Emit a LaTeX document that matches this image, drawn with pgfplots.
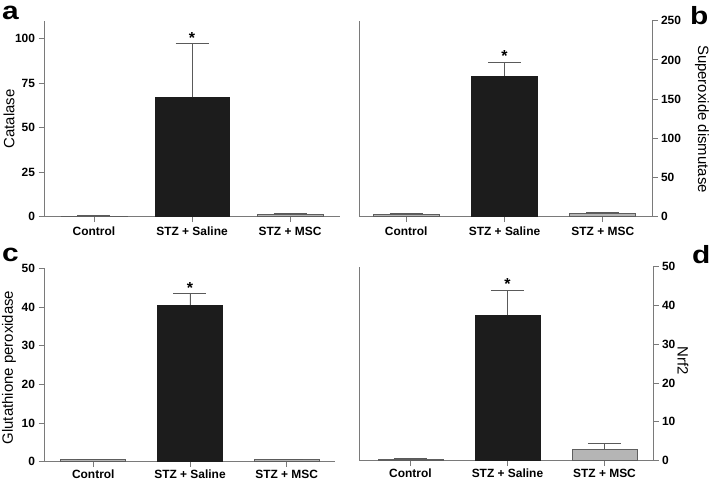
\documentclass[border=0pt]{standalone}
\usepackage{pgfplots}
\pgfplotsset{compat=1.18}
\usepackage{fontspec}
\setmainfont{Liberation Sans}
\definecolor{axc}{HTML}{7A7A7A}
\definecolor{barblk}{HTML}{1C1C1C}
\definecolor{bargray}{HTML}{B5B5B5}
\definecolor{bord}{HTML}{5E5E5E}
\definecolor{errc}{HTML}{5A5A5A}
\newcommand{\tickfont}{\bfseries\fontsize{12}{14}\selectfont}
\newcommand{\starfont}{\bfseries\fontsize{16}{16}\selectfont}
\newcommand{\labfont}{\fontsize{15}{17}\selectfont}
\newcommand{\letfont}{\bfseries\fontsize{25}{28}\selectfont}
\pgfplotsset{
  panel/.style={
    scale only axis,
    axis x line*=bottom,
    axis line style={axc, line width=0.9bp},
    every tick/.style={axc, line width=0.9bp},
    major tick length=5.5bp,
    tick align=outside,
    xtick={0,1,2},
    xticklabels={Control, STZ + Saline, STZ + MSC},
    ymin=0,
    /pgf/number format/assume math mode=true,
    ticklabel style={font=\tickfont, text=black},
    xticklabel style={yshift=-1bp},
    ybar, bar shift=0pt,
    clip=false,
  },
  gbar/.style={fill=bargray, draw=bord, line width=0.8bp},
  kbar/.style={fill=barblk, draw=barblk, line width=0.8bp},
  err/.style={error bars/.cd, y dir=plus, y explicit,
    error bar style={errc, line width=0.9bp},
    error mark options={errc, line width=0.9bp, mark size=16.5bp, rotate=90}},
}
\begin{document}
\begin{tikzpicture}
\useasboundingbox (0bp,0bp) rectangle (709bp,480bp);
% ---------- panel a ----------
\begin{axis}[panel, at={(44bp,263.3bp)}, anchor=south west,
  width=296bp, height=195.7bp, axis y line*=left,
  xmin=-0.51, xmax=2.51, ymax=110, ytick={0,25,50,75,100}]
\addplot[gbar, bar width=66bp, err] coordinates {(0,0.4) +- (0,0.1)};
\addplot[kbar, bar width=74bp, err] coordinates {(1,67) +- (0,30.2)};
\addplot[gbar, bar width=66bp, err] coordinates {(2,1.2) +- (0,0.4)};
\node[above, font=\starfont, inner sep=0.5bp] at (axis cs:1,97.2) {*};
\end{axis}
% ---------- panel b ----------
\begin{axis}[panel, at={(359bp,263.3bp)}, anchor=south west,
  width=293bp, height=196bp, axis y line*=right,
  xmin=-0.48, xmax=2.5, ymax=250, ytick={0,50,100,150,200,250}]
\draw[axc, line width=0.9bp] (rel axis cs:0,0) -- (rel axis cs:0,1);
\addplot[gbar, bar width=66bp, err] coordinates {(0,3.0) +- (0,1.3)};
\addplot[kbar, bar width=66bp, err] coordinates {(1,179.5) +- (0,17)};
\addplot[gbar, bar width=66bp, err] coordinates {(2,4.2) +- (0,1.7)};
\node[above, font=\starfont, inner sep=0.5bp] at (axis cs:1,196.5) {*};
\end{axis}
% ---------- panel c ----------
\begin{axis}[panel, at={(44bp,18.3bp)}, anchor=south west,
  width=291bp, height=193.4bp, axis y line*=left,
  xticklabel style={yshift=1.5bp},
  xmin=-0.51, xmax=2.5, ymax=50, ytick={0,10,20,30,40,50}]
\addplot[gbar, bar width=65bp, err] coordinates {(0,0.5) +- (0,0.1)};
\addplot[kbar, bar width=65bp, err] coordinates {(1,40.4) +- (0,3.0)};
\addplot[gbar, bar width=65bp, err] coordinates {(2,0.5) +- (0,0.1)};
\node[above, font=\starfont, inner sep=0.5bp] at (axis cs:1,43.4) {*};
\end{axis}
% ---------- panel d ----------
\begin{axis}[panel, at={(359bp,19.3bp)}, anchor=south west,
  width=294bp, height=194.2bp, axis y line*=right,
  xticklabel style={yshift=1.5bp},
  xmin=-0.53, xmax=2.5, ymax=50, ytick={0,10,20,30,40,50}]
\draw[axc, line width=0.9bp] (rel axis cs:0,0) -- (rel axis cs:0,1);
\addplot[gbar, bar width=65bp, err] coordinates {(0,0.4) +- (0,0.2)};
\addplot[kbar, bar width=65bp, err] coordinates {(1,37.4) +- (0,6.5)};
\addplot[gbar, bar width=65bp, err] coordinates {(2,2.8) +- (0,1.7)};
\node[above, font=\starfont, inner sep=0.5bp] at (axis cs:1,43.9) {*};
\end{axis}
% ---------- labels ----------
\begin{scope}[x=1bp,y=1bp]
\node[rotate=90, font=\labfont] at (9,361) {Catalase};
\node[rotate=-90, font=\labfont] at (702,361) {Superoxide dismutase};
\node[rotate=90, font=\labfont] at (9,112.5) {Glutathione peroxidase};
\node[rotate=-90, font=\labfont] at (683,119) {Nrf2};
\node[anchor=base west, inner sep=0, font=\letfont, xscale=1.2] at (2,460.7) {a};
\node[anchor=base west, inner sep=0, font=\letfont, xscale=1.2] at (690,455) {b};
\node[anchor=base west, inner sep=0, font=\letfont, xscale=1.2] at (2,219) {c};
\node[anchor=base west, inner sep=0, font=\letfont, xscale=1.2] at (692,217) {d};
\end{scope}
\end{tikzpicture}
\end{document}
